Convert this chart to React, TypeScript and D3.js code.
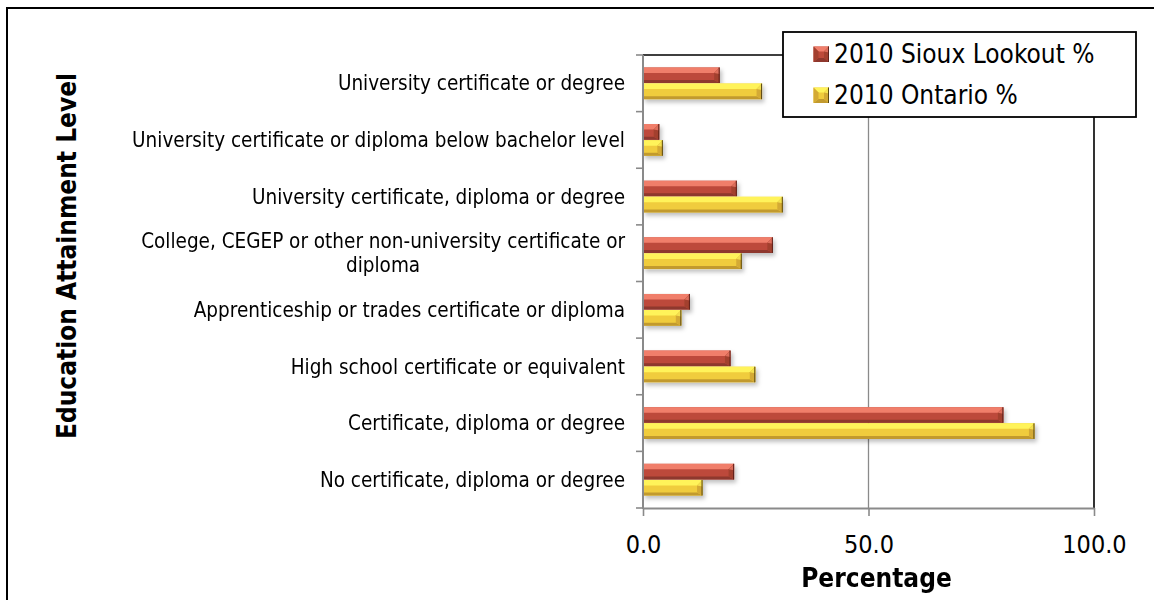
import { useEffect, useRef } from "react";
import * as d3 from "d3";

// Chart data
const categories = [
    "University certificate or degree",
    "University certificate or diploma below bachelor level",
    "University certificate, diploma or degree",
    "College, CEGEP or other non-university certificate or diploma",
    "Apprenticeship or trades certificate or diploma",
    "High school certificate or equivalent",
    "Certificate, diploma or degree",
    "No certificate, diploma or degree",
];
const seriesNames = ["2010 Sioux Lookout %", "2010 Ontario %"];
const siouxLookout = [17.0, 3.6, 20.8, 28.8, 10.4, 19.4, 79.9, 20.2];
const ontario = [26.4, 4.4, 31.0, 21.9, 8.5, 24.9, 86.8, 13.2];
const xTicks = [0, 50, 100];

const FONT = "'DejaVu Sans Condensed', 'DejaVu Sans', Tahoma, sans-serif";

// bevel shades per series
const shades = [
    { top: "#f07e6b", front: "#bd4a3a", bottom: "#8e372d", right: "#a3402f", edge: "#5e221b" },
    { top: "#fff35a", front: "#f0cc3c", bottom: "#c29a2e", right: "#d4aa34", edge: "#5a4812" },
];

type G = d3.Selection<SVGGElement, unknown, null, undefined>;
const pts = (p: number[][]) => p.map(q => q.join(",")).join(" ");

function bevelBar(g: G, x0: number, x1: number, y: number, h: number, s: typeof shades[0], bt: number, bb: number, leftBevel = false) {
    const w = x1 - x0;
    const br = Math.min(bt, w / 2);
    const lx = leftBevel ? x0 + br : x0;
    const grp = g.append("g");
    grp.append("rect").attr("x", x0).attr("y", y).attr("width", w).attr("height", h).attr("fill", s.front);
    // top face
    grp.append("polygon")
        .attr("points", pts([[x0, y], [x1, y], [x1 - br, y + bt], [lx, y + bt]]))
        .attr("fill", s.top);
    // bottom face
    grp.append("polygon")
        .attr("points", pts([[x0, y + h], [x1, y + h], [x1 - br, y + h - bb], [lx, y + h - bb]]))
        .attr("fill", s.bottom);
    // right face
    grp.append("polygon")
        .attr("points", pts([[x1, y], [x1, y + h], [x1 - br, y + h - bb], [x1 - br, y + bt]]))
        .attr("fill", s.right);
    grp.append("polygon")
        .attr("points", pts([[x1, y], [x1, y + bt + 1], [x1 - br, y + bt]]))
        .attr("fill", s.top)
        .attr("opacity", 0.75);
    if (leftBevel) {
        grp.append("polygon")
            .attr("points", pts([[x0, y], [x0, y + h], [x0 + br, y + h - bb], [x0 + br, y + bt]]))
            .attr("fill", s.right);
    }
    grp.append("line")
        .attr("x1", x1 - 0.5).attr("x2", x1 - 0.5).attr("y1", y).attr("y2", y + h)
        .attr("stroke", s.edge).attr("stroke-width", 1);
    return grp;
}

export default function App() {
    const svgRef = useRef<SVGSVGElement>(null);

    useEffect(() => {
        if (!svgRef.current) return;
        const svg = d3.select(svgRef.current);
        svg.selectAll("*").remove();

        const plot = { left: 643, right: 1094, top: 55, bottom: 508 };

        const defs = svg.append("defs");
        defs.append("filter")
            .attr("id", "barShadow")
            .attr("x", "-5%").attr("y", "-40%").attr("width", "115%").attr("height", "200%")
            .append("feDropShadow")
            .attr("dx", 2).attr("dy", 3).attr("stdDeviation", 2)
            .attr("flood-color", "#000").attr("flood-opacity", 0.25);

        const root = svg.append("g") as G;

        // outer chart frame
        root.append("rect")
            .attr("x", 7).attr("y", 8).attr("width", 1170).attr("height", 620)
            .attr("fill", "#fff").attr("stroke", "#000").attr("stroke-width", 2);

        const x = d3.scaleLinear().domain([0, 100]).range([plot.left, plot.right]);
        const y0 = d3.scaleBand<string>()
            .domain(categories)
            .range([plot.top, plot.bottom])
            .paddingInner(0.44)
            .paddingOuter(0.22);
        const y1 = d3.scaleBand<string>()
            .domain(seriesNames)
            .range([0, y0.bandwidth()])
            .paddingInner(0.03);
        const step = y0.step();

        // gridline at 50
        root.append("g")
            .selectAll("line")
            .data(xTicks.filter(t => t > 0 && t < 100))
            .join("line")
            .attr("x1", d => x(d)).attr("x2", d => x(d))
            .attr("y1", plot.top).attr("y2", plot.bottom)
            .attr("stroke", "#8a8a8a").attr("stroke-width", 1.3);

        // plot border top / right
        root.append("path")
            .attr("d", `M${plot.left},${plot.top}H${plot.right}V${plot.bottom}`)
            .attr("fill", "none").attr("stroke", "#000").attr("stroke-width", 1.6);

        // bars
        const values = [siouxLookout, ontario];
        const barG = root.append("g").attr("filter", "url(#barShadow)") as G;
        categories.forEach((c, i) => {
            seriesNames.forEach((s, j) => {
                const yy = (y0(c) ?? 0) + (y1(s) ?? 0);
                bevelBar(barG, x(0), x(values[j][i]), yy, y1.bandwidth(), shades[j], 5.5, 3);
            });
        });

        // bottom axis
        const xAxis = root.append("g")
            .attr("transform", `translate(0,${plot.bottom})`)
            .call(d3.axisBottom(x).tickValues(xTicks).tickSize(8).tickSizeOuter(0).tickPadding(19).tickFormat(d3.format(".1f")));
        xAxis.select(".domain").attr("stroke", "#8a8a8a").attr("stroke-width", 2);
        xAxis.selectAll(".tick line").attr("stroke", "#8a8a8a").attr("stroke-width", 1.6);
        xAxis.selectAll(".tick text")
            .attr("fill", "#000")
            .style("font-family", FONT)
            .style("font-size", "25px");

        // left axis
        root.append("line")
            .attr("x1", plot.left).attr("x2", plot.left)
            .attr("y1", plot.top).attr("y2", plot.bottom + 1)
            .attr("stroke", "#8a8a8a").attr("stroke-width", 2);
        root.append("g")
            .selectAll("line")
            .data(d3.range(categories.length + 1))
            .join("line")
            .attr("x1", plot.left - 7).attr("x2", plot.left)
            .attr("y1", d => plot.top + d * step).attr("y2", d => plot.top + d * step)
            .attr("stroke", "#8a8a8a").attr("stroke-width", 1.6);

        // category labels with wrapping
        const maxLabelWidth = 530;
        const labelG = root.append("g")
            .style("font-family", FONT)
            .style("font-size", "20.5px");
        categories.forEach(c => {
            const cy = (y0(c) ?? 0) + y0.bandwidth() / 2;
            const t = labelG.append("text").attr("text-anchor", "middle").attr("fill", "#000");
            const words = c.split(" ");
            const lines: string[] = [];
            let cur = "";
            words.forEach(w => {
                const test = cur ? cur + " " + w : w;
                t.text(test);
                if ((t.node() as SVGTextElement).getComputedTextLength() > maxLabelWidth && cur) {
                    lines.push(cur);
                    cur = w;
                } else {
                    cur = test;
                }
            });
            lines.push(cur);
            let widest = 0;
            lines.forEach(l => {
                t.text(l);
                widest = Math.max(widest, (t.node() as SVGTextElement).getComputedTextLength());
            });
            t.text(null);
            const lh = 24;
            const cx = plot.left - 18 - widest / 2;
            lines.forEach((l, k) => {
                t.append("tspan")
                    .attr("x", cx)
                    .attr("y", cy + (k - (lines.length - 1) / 2) * lh)
                    .attr("dy", "0.35em")
                    .text(l);
            });
        });

        // axis titles
        root.append("text")
            .attr("x", (plot.left + plot.right) / 2 + 8)
            .attr("y", 587)
            .attr("text-anchor", "middle")
            .style("font-family", FONT)
            .style("font-size", "26px")
            .style("font-weight", "bold")
            .text("Percentage");
        root.append("text")
            .attr("transform", `translate(67,256) rotate(-90)`)
            .attr("text-anchor", "middle")
            .attr("dy", "0.35em")
            .style("font-family", FONT)
            .style("font-size", "26px")
            .style("font-weight", "bold")
            .text("Education Attainment Level");

        // legend
        const legend = root.append("g").attr("transform", "translate(783,32)") as G;
        legend.append("rect")
            .attr("width", 353).attr("height", 85)
            .attr("fill", "#fff").attr("stroke", "#000").attr("stroke-width", 1.8);
        seriesNames.forEach((s, j) => {
            const base = 31 + j * 41;
            bevelBar(legend, 30.5, 46, base - 16.5, 15.5, shades[j], 5, 4, true);
            legend.append("text")
                .attr("x", 51)
                .attr("y", base)
                .style("font-family", FONT)
                .style("font-size", "26px")
                .text(s);
        });
    }, []);

    return (
        <svg
            ref={svgRef}
            width={1154}
            height={600}
            style={{ position: "absolute", left: 0, top: 0, display: "block", background: "#fff" }}
        />
    );
}
